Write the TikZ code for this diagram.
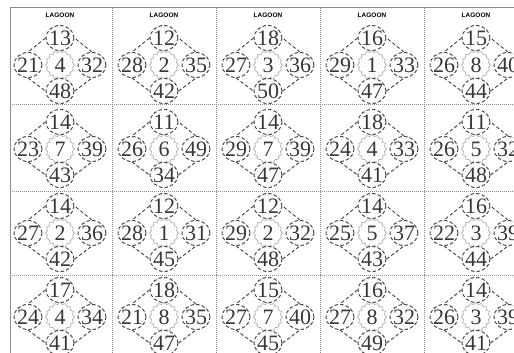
\documentclass[tikz,border=0pt]{standalone}
\usepackage{fontspec}
\setmainfont{Liberation Serif}
\setsansfont{Liberation Sans}
\usepackage{tikz}
\usetikzlibrary{shapes.geometric}

\newcommand{\numsize}{\fontsize{22}{22}\selectfont}

% one puzzle: name, x, y of the centre, then top, left, centre, right, bottom
\newcommand{\lagoon}[8]{%
  \node[hub] (#1c) at (#2, #3) {#6};
  \node[ring] (#1t) at (#2, #3-27) {#4};
  \node[ring] (#1l) at (#2-32, #3) {#5};
  \node[ring] (#1r) at (#2+32, #3) {#7};
  \node[ring] (#1b) at (#2, #3+26) {#8};
  \draw[rim] (#1t.west) -- (#1l.north);
  \draw[rim] (#1l.south) -- (#1b.west);
  \draw[rim] (#1b.east) -- (#1r.south);
  \draw[rim] (#1r.north) -- (#1t.east);
}

\begin{document}
\begin{tikzpicture}[
    x=1pt, y=-1pt,
    ring/.style={ellipse, draw=black!70, fill=white, line width=1pt, dash pattern=on 3.5pt off 2.2pt,
                 minimum width=28pt, minimum height=25pt, inner xsep=-2pt, inner ysep=0pt,
                 text=black!78, font=\numsize},
    hub/.style={star, star points=16, star point ratio=1.14, draw=black!30, fill=white, line width=0.7pt,
                minimum size=29pt, inner sep=0pt, text=black!78, font=\numsize},
    rim/.style={draw=black!70, line width=1pt, dash pattern=on 3.5pt off 2.2pt},
    frame/.style={draw=black!45, line width=1pt},
    sep/.style={draw=black!45, line width=0.6pt, dash pattern=on 1pt off 1pt},
    title/.style={font=\sffamily\bfseries\fontsize{6.5}{6.5}\selectfont, text=black}
]
\useasboundingbox (0,0) rectangle (514,353);

% Grid
\draw[frame] (10,8) -- (514,8);
\draw[frame] (10,8) -- (10,353);
\draw[sep] (112,8) -- (112,353);
\draw[sep] (216,8) -- (216,353);
\draw[sep] (320,8) -- (320,353);
\draw[sep] (424,8) -- (424,353);
\draw[sep] (10,104) -- (514,104);
\draw[sep] (10,191) -- (514,191);
\draw[sep] (10,275) -- (514,275);

% Headings
\node[title] (head1) at (60,15) {LAGOON};
\node[title] (head2) at (164,15) {LAGOON};
\node[title] (head3) at (268,15) {LAGOON};
\node[title] (head4) at (372,15) {LAGOON};
\node[title] (head5) at (476,15) {LAGOON};

% Row 1
\lagoon{p11}{60}{65}{13}{21}{4}{32}{48}
\lagoon{p12}{164}{65}{12}{28}{2}{35}{42}
\lagoon{p13}{268}{65}{18}{27}{3}{36}{50}
\lagoon{p14}{372}{65}{16}{29}{1}{33}{47}
\lagoon{p15}{476}{65}{15}{26}{8}{40}{44}

% Row 2
\lagoon{p21}{60}{149}{14}{23}{7}{39}{43}
\lagoon{p22}{164}{149}{11}{26}{6}{49}{34}
\lagoon{p23}{268}{149}{14}{29}{7}{39}{47}
\lagoon{p24}{372}{149}{18}{24}{4}{33}{41}
\lagoon{p25}{476}{149}{11}{26}{5}{32}{48}

% Row 3
\lagoon{p31}{60}{233}{14}{27}{2}{36}{42}
\lagoon{p32}{164}{233}{12}{28}{1}{31}{45}
\lagoon{p33}{268}{233}{12}{29}{2}{32}{48}
\lagoon{p34}{372}{233}{14}{25}{5}{37}{43}
\lagoon{p35}{476}{233}{16}{22}{3}{39}{44}

% Row 4
\lagoon{p41}{60}{317}{17}{24}{4}{34}{41}
\lagoon{p42}{164}{317}{18}{21}{8}{35}{47}
\lagoon{p43}{268}{317}{15}{27}{7}{40}{45}
\lagoon{p44}{372}{317}{16}{27}{8}{32}{49}
\lagoon{p45}{476}{317}{14}{26}{3}{39}{41}

\end{tikzpicture}
\end{document}
